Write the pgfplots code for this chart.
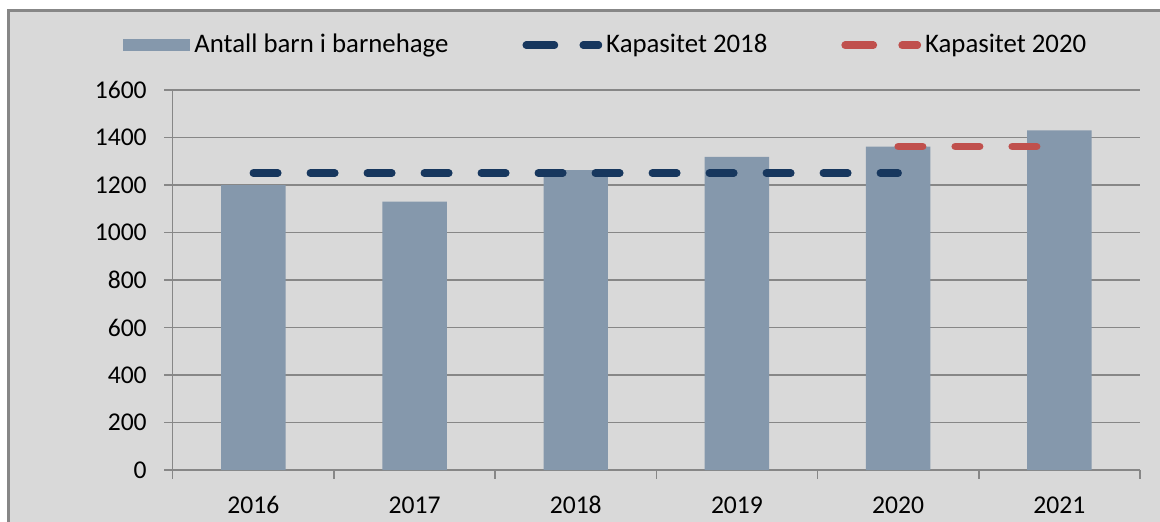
\documentclass[border=0pt]{standalone}
\usepackage{fontspec}
\setmainfont{Carlito}
\usepackage{pgfplots}
\pgfplotsset{compat=1.18}
\definecolor{bg}{HTML}{D9D9D9}
\definecolor{barc}{HTML}{8598AC}
\definecolor{navy}{HTML}{17375E}
\definecolor{redc}{HTML}{C0504D}
\definecolor{gridc}{HTML}{878787}
\tikzset{capline/.style={line width=3.75pt, line cap=round, dash pattern=on 12.25pt off 16.25pt}}
\begin{document}
\begin{tikzpicture}
\useasboundingbox (0pt,0pt) rectangle (580pt,-260.5pt);
\begin{scope}
  \clip (0pt,0pt) rectangle (580pt,-260.5pt);
  \draw[gridc, line width=1.5pt, fill=bg] (4.25pt,-5.25pt) rectangle (590pt,-270pt);
\end{scope}
\begin{axis}[
    at={(86.35pt,-235pt)}, anchor=south west,
    scale only axis, width=483.65pt, height=190pt,
    xmin=-0.5, xmax=5.5, ymin=0, ymax=1600,
    xtick={-0.5,0.5,...,5.5},
    xticklabels={2016,2017,2018,2019,2020,2021},
    x tick label as interval,
    ytick={0,200,...,1600},
    ymajorgrids, grid style={gridc, line width=0.75pt},
    axis x line*=bottom, axis y line*=left,
    axis line style={gridc, line width=0.75pt, -},
    tick style={gridc, line width=0.75pt},
    tick align=outside, major tick length=4.3pt,
    /pgf/number format/1000 sep={},
    /pgf/number format/assume math mode=true,
    ticklabel style={font=\fontsize{12.8}{15}\selectfont, text=black},
    yticklabel style={inner sep=0pt, xshift=-8.5pt},
    xticklabel style={inner sep=0pt, anchor=north, text height=8.2pt, text depth=0pt, yshift=-9pt},
    legend style={at={(-0.0514,1.118)}, anchor=west, draw=none, fill=none,
        inner sep=0pt, font=\fontsize{13.4}{15}\selectfont,
        /tikz/every even column/.append style={column sep=35pt}},
    legend columns=3, legend cell align=left,
]
\addplot[ybar, bar width=0.4, fill=barc, draw=none,
    legend image code/.code={\fill[barc] (0pt,-3pt) rectangle (33.5pt,3pt);}]
    coordinates {(0,1200) (1,1130) (2,1263) (3,1318) (4,1362) (5,1430)};
\addlegendentry{Antall barn i barnehage}
\addplot[navy, capline,
    legend image code/.code={\path (0pt,0pt) -- (36pt,0pt); \draw[navy, capline] (1.875pt,0pt) -- (36.125pt,0pt);}]
    coordinates {(0,1250) (1,1250) (2,1250) (3,1250) (4,1250)};
\addlegendentry{Kapasitet 2018}
\addplot[redc, capline,
    legend image code/.code={\path (0pt,0pt) -- (36pt,0pt); \draw[redc, capline] (1.875pt,0pt) -- (36.125pt,0pt);}]
    coordinates {(4,1362) (5,1362)};
\addlegendentry{Kapasitet 2020}
\end{axis}
\end{tikzpicture}
\end{document}
